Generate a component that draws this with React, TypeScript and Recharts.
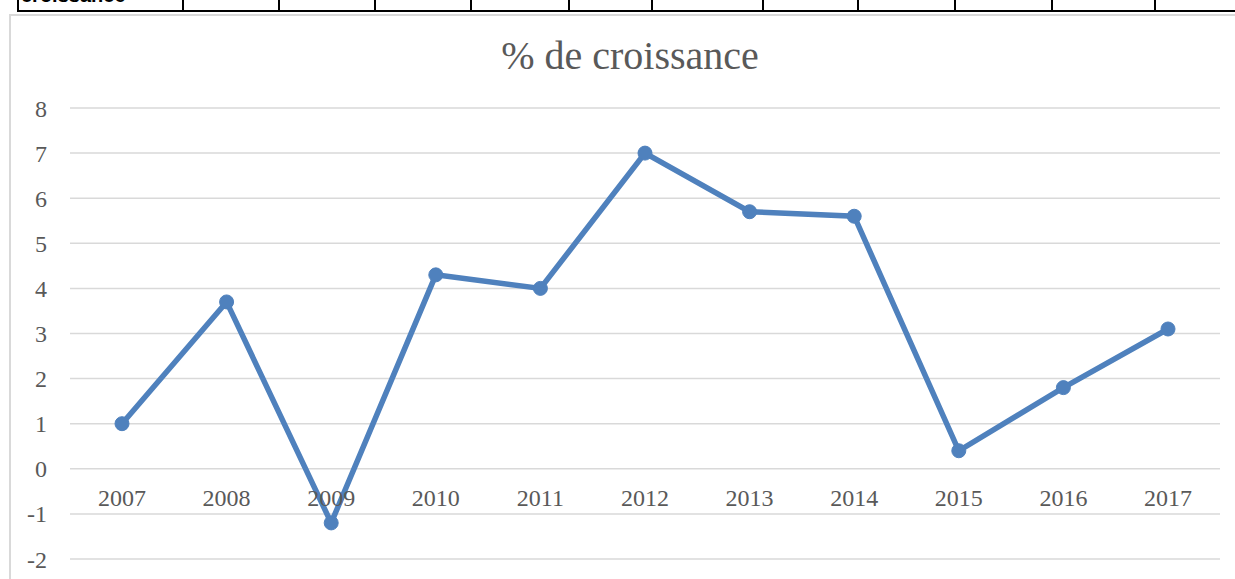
import { LineChart, Line, XAxis, YAxis, CartesianGrid } from 'recharts'

// growth rate per year (%)
const YEARS = ['2007', '2008', '2009', '2010', '2011', '2012', '2013', '2014', '2015', '2016', '2017']
const GROWTH = [1, 3.7, -1.2, 4.3, 4.0, 7.0, 5.7, 5.6, 0.4, 1.8, 3.1]
const Y_TICKS = [-2, -1, 0, 1, 2, 3, 4, 5, 6, 7, 8]

// x positions of the cell borders of the table row above the chart
const TABLE_BORDERS = [17, 182, 278, 374, 470, 568, 651, 762, 857, 954, 1051, 1154]

const LINE_COLOR = '#4F81BD'
const TEXT_COLOR = '#595959'
const FONT = '"Liberation Serif", "Times New Roman", serif'

const chartData = YEARS.map((year, i) => ({ year, value: GROWTH[i] }))

function YearTick(props: any) {
  const { x, y, payload } = props
  return (
    <text x={x} y={y} dy={-61} textAnchor="middle" fill={TEXT_COLOR} fontSize={24} fontFamily={FONT}>
      {payload.value}
    </text>
  )
}

export default function App() {
  return (
    <div style={{ position: 'absolute', left: 0, top: 0, width: 1235, height: 579, overflow: 'hidden', background: '#fff' }}>
      {/* bit of the table row above the chart */}
      <div style={{ position: 'absolute', left: 17, top: 10, width: 1218, height: 2, background: '#000' }} />
      {TABLE_BORDERS.map((x) => (
        <div key={x} style={{ position: 'absolute', left: x, top: 0, width: 2, height: 12, background: '#000' }} />
      ))}
      <div style={{ position: 'absolute', left: 19, top: 0, width: 160, height: 4, overflow: 'hidden' }}>
        <div style={{ position: 'absolute', top: -16, left: 2, fontFamily: '"Liberation Sans", Arial, sans-serif', fontSize: 20, fontWeight: 'bold', color: '#000' }}>
          croissance
        </div>
      </div>

      {/* chart frame */}
      <div style={{ position: 'absolute', left: 9, top: 14, width: 1240, height: 600, borderLeft: '2px solid #D9D9D9', borderTop: '2px solid #D9D9D9' }} />

      <div style={{ position: 'absolute', left: 0, top: 32, width: 1260, textAlign: 'center', fontFamily: FONT, fontSize: 40, color: TEXT_COLOR }}>
        % de croissance
      </div>

      <div style={{ position: 'absolute', left: 0, top: 0 }}>
        <LineChart width={1235} height={579} data={chartData} margin={{ top: 108, right: 15, bottom: 0, left: 0 }}>
          <CartesianGrid vertical={false} stroke="#D9D9D9" strokeWidth={1.5} />
          <XAxis
            dataKey="year"
            height={20}
            axisLine={false}
            tickLine={false}
            tick={<YearTick />}
            interval={0}
            padding={{ left: 52, right: 52 }}
          />
          <YAxis
            domain={[-2, 8]}
            ticks={Y_TICKS}
            width={70}
            axisLine={false}
            tickLine={false}
            tickMargin={17}
            tick={{ fill: TEXT_COLOR, fontSize: 24, fontFamily: FONT }}
          />
          <Line
            type="linear"
            dataKey="value"
            stroke={LINE_COLOR}
            strokeWidth={5.5}
            dot={{ r: 7, fill: LINE_COLOR, stroke: LINE_COLOR, strokeWidth: 1 }}
            activeDot={false}
            isAnimationActive={false}
          />
        </LineChart>
      </div>
    </div>
  )
}
